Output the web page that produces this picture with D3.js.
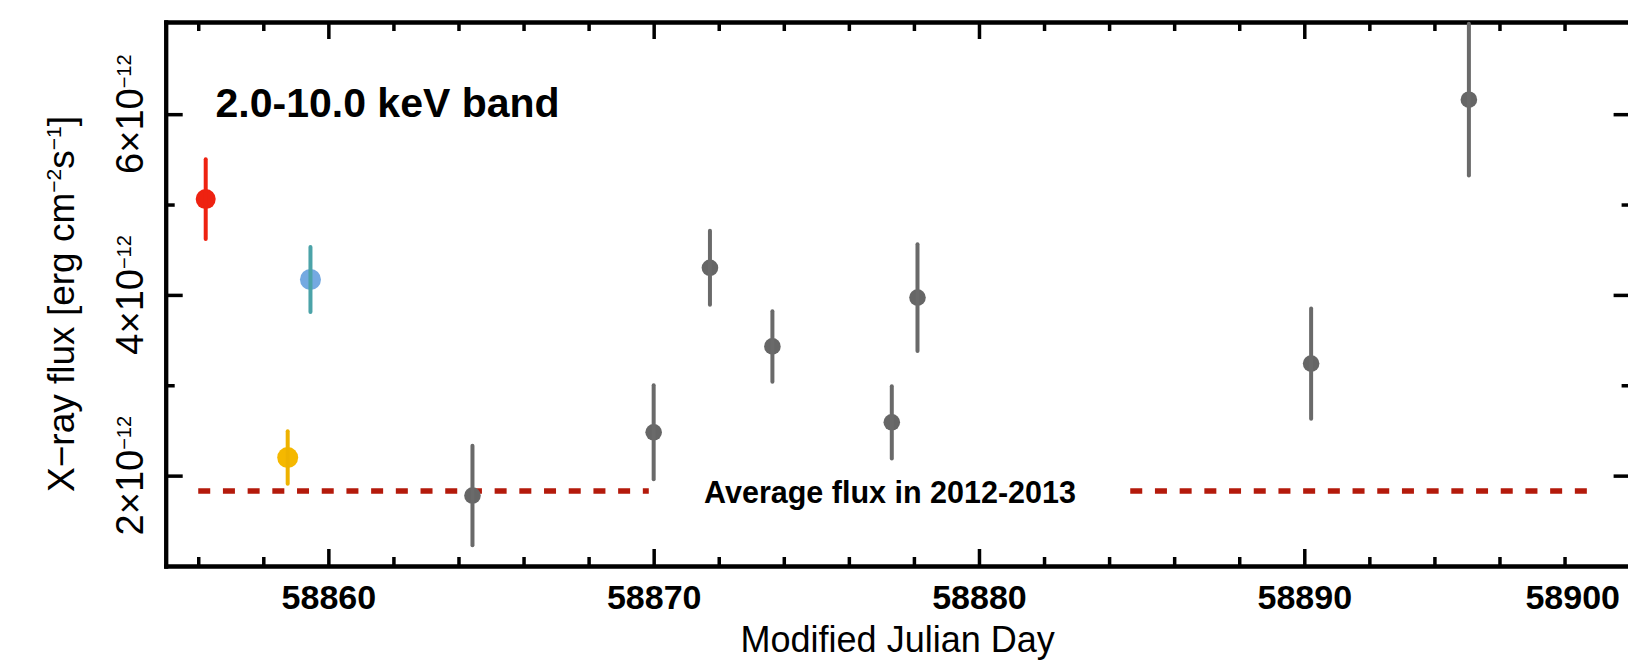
<!DOCTYPE html>
<html>
<head>
<meta charset="utf-8">
<script src="https://cdn.jsdelivr.net/npm/d3@7"></script>
<style>
  body { margin: 0; background: #fff; }
  svg { display: block; font-family: "Liberation Sans", Arial, Helvetica, sans-serif; }
</style>
</head>
<body>
<svg id="chart" width="1628" height="662"></svg>
<script>
// observation epochs (MJD), flux in units of 1e-12 erg cm^-2 s^-1, 1-sigma errors
var mjd     = [58856.23, 58859.45, 58858.75, 58864.43, 58870.00, 58871.73, 58873.65, 58877.32, 58878.11, 58890.21, 58895.06];
var flux    = [5.06, 4.17, 2.20, 1.78, 2.48, 4.30, 3.43, 2.59, 3.97, 3.24, 6.16];
var fluxErr = [0.44, 0.36, 0.29, 0.55, 0.52, 0.41, 0.39, 0.40, 0.59, 0.61, 0.84];
var group   = ["obsA", "obsB", "obsC", "mon", "mon", "mon", "mon", "mon", "mon", "mon", "mon"];

// average flux in 2012-2013 and the stretches where it is drawn
var avgFlux = 1.83;
var avgSpans = [[58856.0, 58869.85], [58884.65, 58898.7]];

var xMajor = [58860, 58870, 58880, 58890, 58900];
var xMinor = [58856, 58858, 58862, 58864, 58866, 58868, 58872, 58874, 58876, 58878,
              58882, 58884, 58886, 58888, 58892, 58894, 58896, 58898];
var yMajor = [2, 4, 6];
var yMinor = [3, 5];

var W = 1628, H = 662;
var L = 165.7, R = 1629.6, T = 22, B = 566;

var colors = {
    obsA: {dot: "#ee2211", bar: "#ee2211", r: 10},
    obsB: {dot: "#74a9e1", bar: "#4ba3a8", r: 10.5},
    obsC: {dot: "#f5b800", bar: "#eeb200", r: 10.5},
    mon:  {dot: "#666666", bar: "#6a6a6a", r: 8.3}
};

var svg = d3.select("#chart");

var x = d3.scaleLinear().domain([58855, 58900]).range([L, R]);
var y = d3.scaleLinear().domain([1.0, 7.02]).range([B, T]);

function styleAxis(g, w) {
    g.select(".domain").attr("stroke", "#000").attr("stroke-width", 4).attr("stroke-linecap", "square");
    g.selectAll(".tick line").attr("stroke", "#000").attr("stroke-width", 3.5);
}

// bottom axis
var gb = svg.append("g").attr("transform", "translate(0," + B + ")")
    .call(d3.axisBottom(x).tickValues(xMajor).tickSize(-17).tickSizeOuter(0).tickPadding(19).tickFormat(d3.format("d")));
styleAxis(gb);
gb.selectAll("text").attr("font-size", 34).attr("font-weight", "bold").attr("fill", "#000")
    .attr("font-family", "Liberation Sans, Arial, sans-serif");
svg.append("g").attr("transform", "translate(0," + B + ")")
    .call(d3.axisBottom(x).tickValues(xMinor).tickSize(-9).tickSizeOuter(0).tickFormat(""))
    .call(styleAxis);

// top axis
svg.append("g").attr("transform", "translate(0," + T + ")")
    .call(d3.axisTop(x).tickValues(xMajor).tickSize(-17).tickSizeOuter(0).tickFormat(""))
    .call(styleAxis);
svg.append("g").attr("transform", "translate(0," + T + ")")
    .call(d3.axisTop(x).tickValues(xMinor).tickSize(-9).tickSizeOuter(0).tickFormat(""))
    .call(styleAxis);

// left axis
svg.append("g").attr("transform", "translate(" + L + ",0)")
    .call(d3.axisLeft(y).tickValues(yMajor).tickSize(-17).tickSizeOuter(0).tickFormat(""))
    .call(styleAxis);
svg.append("g").attr("transform", "translate(" + L + ",0)")
    .call(d3.axisLeft(y).tickValues(yMinor).tickSize(-9).tickSizeOuter(0).tickFormat(""))
    .call(styleAxis);

// right axis
svg.append("g").attr("transform", "translate(" + R + ",0)")
    .call(d3.axisRight(y).tickValues(yMajor).tickSize(-16).tickSizeOuter(0).tickFormat(""))
    .call(styleAxis);
svg.append("g").attr("transform", "translate(" + R + ",0)")
    .call(d3.axisRight(y).tickValues(yMinor).tickSize(-8).tickSizeOuter(0).tickFormat(""))
    .call(styleAxis);

// keep the last x label inside the picture
gb.selectAll(".tick").each(function() {
    var t = d3.select(this).select("text");
    var bb = this.getBBox();
    var tr = d3.select(this).attr("transform");
    var tx = +tr.match(/translate\(([-\d.]+)/)[1];
    var right = tx + t.node().getBBox().x + t.node().getBBox().width;
    if (right > W - 8) t.attr("x", -(right - (W - 8)));
});

// y tick labels  a×10^-12
yMajor.forEach(function(v) {
    var t = svg.append("text")
        .attr("transform", "translate(142.7," + y(v) + ") rotate(-90)")
        .attr("text-anchor", "middle")
        .attr("font-size", 38)
        .attr("fill", "#000");
    t.append("tspan").text(v + "\u00d710");
    t.append("tspan").attr("font-size", 20).attr("dy", -12).text("\u221212");
});

// y axis title
var yt = svg.append("text")
    .attr("transform", "translate(74,304) rotate(-90)")
    .attr("text-anchor", "middle")
    .attr("font-size", 37)
    .attr("fill", "#000");
yt.append("tspan").text("X\u2212ray flux [erg cm");
yt.append("tspan").attr("font-size", 21).attr("dy", -13).text("\u22122");
yt.append("tspan").attr("dy", 13).text("s");
yt.append("tspan").attr("font-size", 21).attr("dy", -13).text("\u22121");
yt.append("tspan").attr("dy", 13).text("]");

// x axis title
svg.append("text")
    .attr("x", (L + R) / 2).attr("y", 651.7)
    .attr("text-anchor", "middle")
    .attr("font-size", 36)
    .attr("fill", "#000")
    .text("Modified Julian Day");

// band label
svg.append("text")
    .attr("x", 215.5).attr("y", 116.7)
    .attr("font-size", 41)
    .attr("font-weight", "bold")
    .attr("fill", "#000")
    .text("2.0-10.0 keV band");

// average flux line
svg.selectAll(".avg").data(avgSpans).enter().append("line")
    .attr("class", "avg")
    .attr("x1", function(d) { return x(d[0]); })
    .attr("x2", function(d) { return x(d[1]); })
    .attr("y1", y(avgFlux)).attr("y2", y(avgFlux))
    .attr("stroke", "#b41a0b")
    .attr("stroke-width", 5.5)
    .attr("stroke-dasharray", "12 12.7");

svg.append("text")
    .attr("x", 890).attr("y", 502.7)
    .attr("text-anchor", "middle")
    .attr("font-size", 30.5)
    .attr("font-weight", "bold")
    .attr("fill", "#000")
    .text("Average flux in 2012-2013");

// points
var pts = mjd.map(function(d, i) {
    return {t: d, f: flux[i], e: fluxErr[i], g: group[i]};
});

svg.selectAll(".dot").data(pts).enter().append("circle")
    .attr("class", "dot")
    .attr("cx", function(d) { return x(d.t); })
    .attr("cy", function(d) { return y(d.f); })
    .attr("r", function(d) { return colors[d.g].r; })
    .attr("fill", function(d) { return colors[d.g].dot; });

svg.selectAll(".err").data(pts).enter().append("line")
    .attr("class", "err")
    .attr("x1", function(d) { return x(d.t); })
    .attr("x2", function(d) { return x(d.t); })
    .attr("y1", function(d) { return y(d.f + d.e); })
    .attr("y2", function(d) { return y(d.f - d.e); })
    .attr("stroke", function(d) { return colors[d.g].bar; })
    .attr("stroke-width", 4)
    .attr("stroke-linecap", "round");
</script>
</body>
</html>
